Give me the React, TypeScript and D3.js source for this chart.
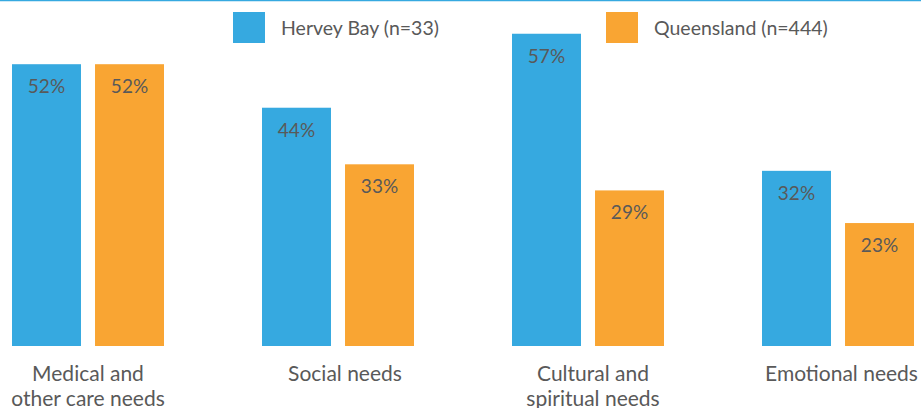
import React from "react";
import * as d3 from "d3";

const categories = [["Medical and", "other care needs"], ["Social needs"], ["Cultural and", "spiritual needs"], ["Emotional needs"]];
const seriesNames = ["Hervey Bay (n=33)", "Queensland (n=444)"];
const herveyBay = [51.8, 43.8, 57.4, 32.2];
const queensland = [51.8, 33.4, 28.6, 22.6];
const colors = ["#36a9e0", "#f9a533"];

const W = 921;
const H = 408;
const FONT = "Lato, 'Open Sans', sans-serif";
const TEXT = "#595959";
const LABEL_NUDGE = [0, 7, 5, 3.5];

export default function App() {
  const keys = categories.map((c) => c.join(" "));
  const x0 = d3.scaleBand<string>().domain(keys).range([12, 914]).paddingInner(0.392).paddingOuter(0);
  const x1 = d3.scaleBand<number>().domain([0, 1]).range([0, x0.bandwidth()]).paddingInner(0.169);
  const y = d3.scaleLinear().domain([0, 60]).range([346, 346 - 60 * 5.44]);
  const data = [herveyBay, queensland];

  return (
    <svg width={W} height={H} style={{ position: "absolute", left: 0, top: 0, background: "#fff" }} fontFamily={FONT}>
      <line x1={0} x2={W} y1={0.5} y2={0.5} stroke={colors[0]} strokeWidth={1.5} />
      {keys.map((k, i) => (
        <g key={k} transform={`translate(${x0(k)},0)`}>
          {data.map((s, j) => {
            const v = s[i];
            const bx = x1(j)!;
            const bw = x1.bandwidth();
            return (
              <g key={j}>
                <rect x={bx} y={y(v)} width={bw} height={y(0) - y(v)} fill={colors[j]} />
                <text x={bx + bw / 2} y={y(v) + 29} textAnchor="middle" fontSize={19} fill={TEXT}>
                  {Math.round(v)}%
                </text>
              </g>
            );
          })}
          {categories[i].map((line, li) => (
            <text key={li} x={x0.bandwidth() / 2 + LABEL_NUDGE[i]} y={381 + li * 25} textAnchor="middle" fontSize={21} fill={TEXT}>
              {line}
            </text>
          ))}
        </g>
      ))}
      {seriesNames.map((n, j) => {
        const lx = j === 0 ? 233 : 606;
        return (
          <g key={n}>
            <rect x={lx} y={12} width={32} height={31} fill={colors[j]} />
            <text x={lx + 48} y={35} fontSize={19.5} fill={TEXT}>
              {n}
            </text>
          </g>
        );
      })}
    </svg>
  );
}
